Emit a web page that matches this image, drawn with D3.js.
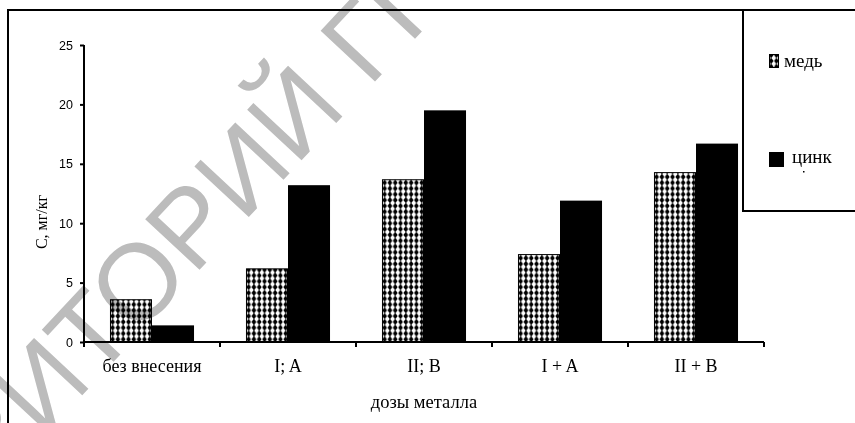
<!DOCTYPE html>
<html>
<head>
<meta charset="utf-8">
<script src="https://cdn.jsdelivr.net/npm/d3@7"></script>
<style>
  html, body { margin: 0; padding: 0; background: #fff; }
  svg { display: block; }
</style>
</head>
<body>
<svg id="chart" width="855" height="423"></svg>
<script>
const categories = ["без внесения", "I; A", "II; B", "I + A", "II + B"];
const series = ["медь", "цинк"];
const copper = [3.6, 6.2, 13.7, 7.4, 14.3];
const zinc = [1.4, 13.2, 19.5, 11.9, 16.7];
const yTicks = [0, 5, 10, 15, 20, 25];
const yTitle = "С, мг/кг";
const xTitle = "дозы металла";
const watermark = "РЕПОЗИТОРИЙ ГГУ";

const svg = d3.select("#chart");
const defs = svg.append("defs");
const pat = defs.append("pattern")
  .attr("id", "diam").attr("patternUnits", "userSpaceOnUse")
  .attr("width", 5.3).attr("height", 5.8);
pat.append("rect").attr("width", 5.3).attr("height", 5.8).attr("fill", "#fff");
pat.append("path").attr("d", "M2.65,-0.4 L5.0,2.9 L2.65,6.2 L0.3,2.9 Z").attr("fill", "#000");

const x0 = d3.scaleBand().domain(categories).range([84, 764]).paddingInner(0.382).paddingOuter(0.191);
const x1 = d3.scaleBand().domain(series).range([0, x0.bandwidth()]);
const y = d3.scaleLinear().domain([0, 25]).range([342, 45]);

// outer frame
svg.append("path").attr("d", "M8,423 V10 H855").attr("fill", "none").attr("stroke", "#000").attr("stroke-width", 2);

const data = categories.map((c, i) => ({ c, vals: [copper[i], zinc[i]] }));
const g = svg.append("g");
const grp = g.selectAll("g.grp").data(data).join("g").attr("transform", d => `translate(${x0(d.c)},0)`);
grp.selectAll("rect").data(d => d.vals.map((v, j) => ({ s: series[j], v })))
  .join("rect")
  .attr("x", d => x1(d.s) + (d.s === series[0] ? 0.5 : 0))
  .attr("y", d => y(d.v) + (d.s === series[0] ? 0.5 : 0))
  .attr("width", d => x1.bandwidth() - (d.s === series[0] ? 1 : 0))
  .attr("height", d => y(0) - y(d.v) - (d.s === series[0] ? 0.5 : 0))
  .attr("fill", d => d.s === series[0] ? "url(#diam)" : "#000")
  .attr("stroke", d => d.s === series[0] ? "#000" : "none")
  .attr("stroke-width", 1);

// y axis
const ya = svg.append("g").attr("transform", "translate(84,0)")
  .call(d3.axisLeft(y).tickValues(yTicks).tickSize(4).tickPadding(7).tickFormat(d3.format("d")));
ya.select(".domain").attr("stroke", "#000").attr("stroke-width", 2).attr("d", `M0,${y(25)}V${y(0)}`);
ya.selectAll(".tick line").attr("stroke", "#000").attr("stroke-width", 2);
ya.selectAll(".tick text").attr("font-family", "Liberation Sans, Arial, sans-serif").attr("font-size", 12.5).attr("fill", "#000");

// x axis
const xa = svg.append("g").attr("transform", `translate(0,${y(0)})`)
  .call(d3.axisBottom(x0).tickSize(0).tickPadding(17));
xa.select(".domain").attr("stroke", "#000").attr("stroke-width", 2).attr("d", "M84,0H764");
xa.selectAll(".tick text").attr("font-family", "Liberation Serif, Times New Roman, serif").attr("font-size", 18).attr("fill", "#000");
const bounds = d3.range(categories.length + 1).map(i => 84 + i * x0.step());
xa.selectAll("line.bt").data(bounds).join("line").attr("class", "bt")
  .attr("x1", d => d).attr("x2", d => d).attr("y1", 0).attr("y2", 5)
  .attr("stroke", "#000").attr("stroke-width", 2);

// axis titles
svg.append("text").attr("transform", "translate(47,222) rotate(-90)")
  .attr("text-anchor", "middle").attr("font-family", "Liberation Serif, Times New Roman, serif")
  .attr("font-size", 16).text(yTitle);
svg.append("text").attr("x", 424).attr("y", 408)
  .attr("text-anchor", "middle").attr("font-family", "Liberation Serif, Times New Roman, serif")
  .attr("font-size", 18.5).text(xTitle);

// legend
svg.append("path").attr("d", "M855,211 H743 V10").attr("fill", "none").attr("stroke", "#000").attr("stroke-width", 2);
const leg = [
  { s: series[0], sx: 769, sy: 54, w: 10, h: 14, tx: 784, ty: 67 },
  { s: series[1], sx: 769, sy: 152, w: 15, h: 15, tx: 792, ty: 163 }
];
leg.forEach((l, i) => {
  svg.append("rect").attr("x", l.sx + 0.5).attr("y", l.sy + 0.5).attr("width", l.w - 1).attr("height", l.h - 1)
    .attr("fill", i === 0 ? "url(#diam)" : "#000").attr("stroke", "#000").attr("stroke-width", 1);
  svg.append("text").attr("x", l.tx).attr("y", l.ty)
    .attr("font-family", "Liberation Serif, Times New Roman, serif").attr("font-size", 19).text(l.s);
});
svg.append("rect").attr("x", 803).attr("y", 171).attr("width", 1.5).attr("height", 1.5).attr("fill", "#000");

// watermark: the first "Г" is placed at (369, 88), rotated -47°
const wm = svg.append("g").style("mix-blend-mode", "multiply").attr("fill", "#bcbcbc")
  .attr("font-family", "Liberation Sans, Arial, sans-serif").attr("font-size", 108)
  .attr("transform", "translate(369,88) rotate(-47)");
const wt = wm.append("text").attr("text-anchor", "start").text(watermark);
const off = wt.node().getSubStringLength(0, watermark.indexOf("Г"));
wt.attr("x", -off);
</script>
</body>
</html>
